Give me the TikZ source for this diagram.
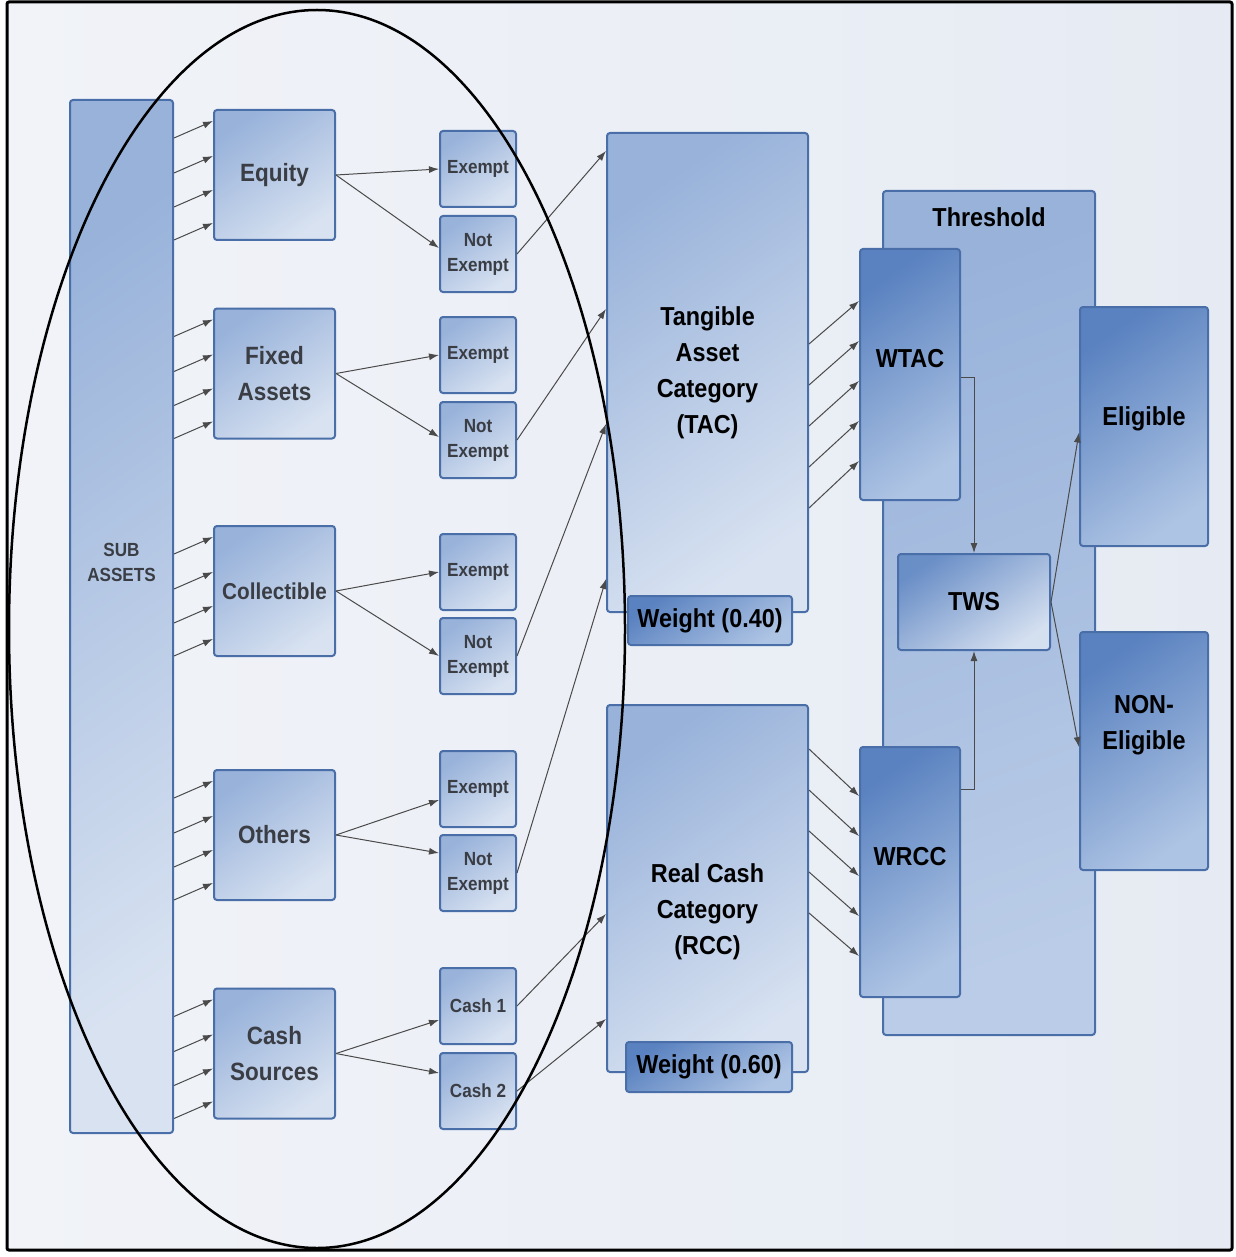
\documentclass[tikz,border=0pt]{standalone}
\usepackage{fontspec}
\setmainfont{Liberation Sans}[FakeStretch=0.9]
\usetikzlibrary{arrows.meta,calc}
\definecolor{bord}{HTML}{4A6FA8}
\definecolor{lbA}{HTML}{98B2DA}
\definecolor{lbB}{HTML}{D8E2F1}
\definecolor{dbA}{HTML}{5A82C0}
\definecolor{dbB}{HTML}{AEC4E4}
\definecolor{thA}{HTML}{98B2DA}
\definecolor{thB}{HTML}{BACCE7}
\definecolor{txtg}{HTML}{3A3D44}
\definecolor{conn}{HTML}{4A4A4A}
\definecolor{bgA}{HTML}{F1F3F8}
\definecolor{bgB}{HTML}{E6EBF3}
\begin{document}
\begin{tikzpicture}[x=1pt,y=-1pt,
  box/.style={draw=bord, line width=2pt, rounded corners=3pt, inner sep=0pt, align=center},
  lbox/.style={box, top color=lbA, bottom color=lbB, shading angle=35},
  dbox/.style={box, top color=dbA, bottom color=dbB, shading angle=35},
  thbox/.style={box, top color=thA, bottom color=thB, shading angle=20},
  catbox/.style={lbox, minimum width=121pt, minimum height=130pt, lf},
  exbox/.style={lbox, minimum width=76pt, minimum height=76pt, sf},
  lf/.style={font=\bfseries\fontsize{25}{36}\selectfont, text=txtg},
  sf/.style={font=\bfseries\fontsize{19}{25}\selectfont, text=txtg},
  rf/.style={font=\bfseries\fontsize{26}{36}\selectfont, text=black, align=center},
  arr/.style={draw=conn, line width=1pt, -{Latex[length=10pt,width=7pt]}}
]
\useasboundingbox (0,0) rectangle (1235,1257);
\shade[left color=bgA, right color=bgB] (7,2) rectangle (1232,1250);

% right part
\node[thbox, minimum width=212pt, minimum height=844pt,
      label={[rf, yshift=396pt]center:Threshold}] (thr) at (989,613) {};
\node[lbox, minimum width=201pt, minimum height=479pt, rf] (tac) at (707.5,372.5)
      {Tangible\\Asset\\Category\\(TAC)};
\node[lbox, minimum width=201pt, minimum height=367pt,
      label={[rf, yshift=-23pt]center:Real Cash\\Category\\(RCC)}] (rcc) at (707.5,888.5) {};
\node[dbox, minimum width=164pt, minimum height=49pt, rf] (w40) at (710,620.5) {Weight (0.40)};
\node[dbox, minimum width=166pt, minimum height=50pt, rf] (w60) at (709,1067) {Weight (0.60)};
\node[dbox, minimum width=100pt, minimum height=251pt,
      label={[rf, yshift=16pt]center:WTAC}] (wtac) at (910,374.5) {};
\node[dbox, minimum width=100pt, minimum height=250pt,
      label={[rf, yshift=15pt]center:WRCC}] (wrcc) at (910,872) {};
\node[lbox, top color=dbA!75!lbA, bottom color=lbB!90!dbB, shading angle=35,
      minimum width=152pt, minimum height=96pt, rf] (tws) at (974,602) {TWS};
\node[dbox, minimum width=128pt, minimum height=239pt,
      label={[rf, yshift=8pt]center:Eligible}] (elig) at (1144,426.5) {};
\node[dbox, minimum width=128pt, minimum height=238pt,
      label={[rf, yshift=26pt]center:NON-\\Eligible}] (non) at (1144,751) {};

% left part
\node[lbox, minimum width=103pt, minimum height=1033pt,
      label={[sf, align=center, yshift=54pt]center:SUB\\ASSETS}] (sub) at (121.5,616.5) {};
\node[catbox] (equity) at (274.5,175) {Equity};
\node[catbox] (fixed) at (274.5,373.5) {Fixed\\Assets};
\node[catbox, font=\bfseries\fontsize{23}{36}\selectfont] (coll) at (274.5,591) {Collectible};
\node[catbox] (others) at (274.5,835) {Others};
\node[catbox] (cash) at (274.5,1053.5) {Cash\\Sources};

\node[exbox] (ex1) at (478,169) {Exempt};
\node[exbox] (ne1) at (478,254) {Not\\Exempt};
\node[exbox] (ex2) at (478,355) {Exempt};
\node[exbox] (ne2) at (478,440) {Not\\Exempt};
\node[exbox] (ex3) at (478,572) {Exempt};
\node[exbox] (ne3) at (478,656) {Not\\Exempt};
\node[exbox] (ex4) at (478,789) {Exempt};
\node[exbox] (ne4) at (478,873) {Not\\Exempt};
\node[exbox] (c1) at (478,1006) {Cash 1};
\node[exbox] (c2) at (478,1091) {Cash 2};

% connectors: sub assets -> categories
\foreach \c in {equity,fixed,coll,others,cash}{
  \foreach \d in {12,47,81,114}{
    \draw[arr] ($(sub.east |- \c.north)+(0,\d+17)$) -- ($(\c.north west)+(0,\d)$);
  }
}
% categories -> exempt / not exempt
\draw[arr] (equity.east) -- (ex1.west);
\draw[arr] (equity.east) -- ($(ne1.west)+(0,-6)$);
\draw[arr] (fixed.east) -- (ex2.west);
\draw[arr] (fixed.east) -- ($(ne2.west)+(0,-3)$);
\draw[arr] (coll.east) -- (ex3.west);
\draw[arr] (coll.east) -- (ne3.west);
\draw[arr] (others.east) -- ($(ex4.west)+(0,11)$);
\draw[arr] (others.east) -- ($(ne4.west)+(0,-20)$);
\draw[arr] (cash.east) -- ($(c1.west)+(0,14)$);
\draw[arr] (cash.east) -- ($(c2.west)+(0,-18)$);
% not exempt -> TAC, cash -> RCC
\draw[arr] (ne1.east) -- ($(tac.north west)+(0,19)$);
\draw[arr] (ne2.east) -- ($(tac.north west)+(0,177)$);
\draw[arr] (ne3.east) -- ($(tac.north west)+(0,292)$);
\draw[arr] (ne4.east) -- ($(tac.north west)+(0,447)$);
\draw[arr] (c1.east) -- ($(rcc.north west)+(0,210)$);
\draw[arr] (c2.east) -- ($(rcc.north west)+(0,315)$);
% TAC -> WTAC, RCC -> WRCC
\foreach \k in {0,...,4}{
  \draw[arr] ($(tac.north east)+(0,212+41*\k)$) -- ($(wtac.north west)+(0,53+40*\k)$);
  \draw[arr] ($(rcc.north east)+(0,45+41*\k)$) -- ($(wrcc.north west)+(0,50+40*\k)$);
}
% to TWS and outcomes
\draw[arr] ($(wtac.east)+(0,3)$) -| (tws.north);
\draw[arr] ($(wrcc.north east)+(0,43)$) -| (tws.south);
\draw[arr] (tws.east) -- ($(elig.west)+(0,6)$);
\draw[arr] (tws.east) -- ($(non.west)+(0,-4)$);

% ellipse and frame
\draw[line width=2.5pt] (317,629) ellipse [x radius=308pt, y radius=619pt];
\draw[line width=3pt, rounded corners=2pt] (7,2) rectangle (1232,1250);
\end{tikzpicture}
\end{document}
